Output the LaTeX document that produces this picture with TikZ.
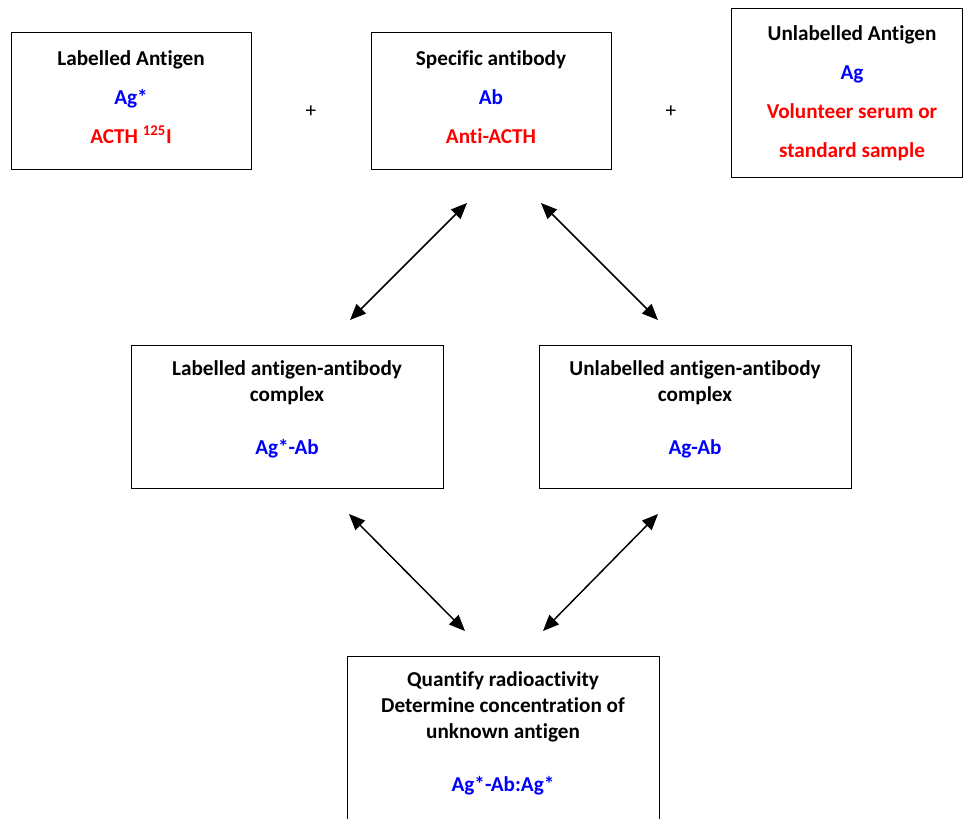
\documentclass[tikz,border=0pt]{standalone}
\usepackage{fontspec}
\setmainfont{Carlito}[Ligatures=NoCommon]
\usepackage{xcolor}
\usetikzlibrary{arrows.meta}
\definecolor{agblue}{RGB}{0,0,255}
\definecolor{agred}{RGB}{255,0,0}

\begin{document}
\begin{tikzpicture}[x=0.75pt,y=0.75pt,yscale=-1,xscale=1,
    box/.style={draw, line width=1pt, inner sep=0pt, anchor=north west},
    txt/.style={align=center, inner sep=0pt, font=\fontsize{15.9pt}{19.5pt}\selectfont\bfseries},
    dbl/.style={line width=1.1pt, {Triangle[length=12pt,width=10pt]}-{Triangle[length=12pt,width=10pt]}}]
    \useasboundingbox (0,0) rectangle (964,818);

    %Boxes
    \node [box, minimum width=240*0.75pt, minimum height=137*0.75pt] (lab) at (11,32) {};
    \node [box, minimum width=240*0.75pt, minimum height=137*0.75pt] (spec) at (371,32) {};
    \node [box, minimum width=231*0.75pt, minimum height=169*0.75pt] (unlab) at (731,8) {};
    \node [box, minimum width=312*0.75pt, minimum height=143*0.75pt] (labcx) at (131,345) {};
    \node [box, minimum width=312*0.75pt, minimum height=143*0.75pt] (unlabcx) at (539,345) {};
    \node [box, minimum width=312*0.75pt, minimum height=180*0.75pt] (quant) at (347,656) {};

    % Text Nodes
    \node [txt] (lab-t) at (131,97) {Labelled Antigen\\[9.75pt]\textcolor{agblue}{Ag*}\\[9.75pt]\textcolor{agred}{ACTH \textsuperscript{125}I}};
    \node [txt] (spec-t) at (491,97) {Specific antibody\\[9.75pt]\textcolor{agblue}{Ab}\\[9.75pt]\textcolor{agred}{Anti-ACTH}};
    \node [txt] (unlab-t) at (852,93) {Unlabelled Antigen\\[9.75pt]\textcolor{agblue}{Ag}\\[9.75pt]\textcolor{agred}{Volunteer serum or}\\[9.75pt]\textcolor{agred}{standard sample}};
    \node [txt] (labcx-t) at (287,409) {Labelled antigen-antibody\\complex\\[20.25pt]\textcolor{agblue}{Ag*-Ab}};
    \node [txt] (unlabcx-t) at (695,409) {Unlabelled antigen-antibody\\complex\\[20.25pt]\textcolor{agblue}{Ag-Ab}};
    \node [txt] (quant-t) at (503,733.5) {Quantify radioactivity\\Determine concentration of\\unknown antigen\\[20.25pt]\textcolor{agblue}{Ag*-Ab:Ag*}};

    % Plus signs
    \node [txt, font=\fontsize{16pt}{18pt}\selectfont] (plus1) at (311,112) {+};
    \node [txt, font=\fontsize{16pt}{18pt}\selectfont] (plus2) at (671,112) {+};

    % Arrow ends
    \coordinate (a1) at (350,320);
    \coordinate (a2) at (467,203);
    \coordinate (b1) at (541,203);
    \coordinate (b2) at (658,320);
    \coordinate (c1) at (349,514);
    \coordinate (c2) at (465,631);
    \coordinate (d1) at (658,514);
    \coordinate (d2) at (543,631);

    %Straight Lines
    \draw [dbl] (a1) -- (a2);
    \draw [dbl] (b1) -- (b2);
    \draw [dbl] (c1) -- (c2);
    \draw [dbl] (d1) -- (d2);

\end{tikzpicture}
\end{document}
